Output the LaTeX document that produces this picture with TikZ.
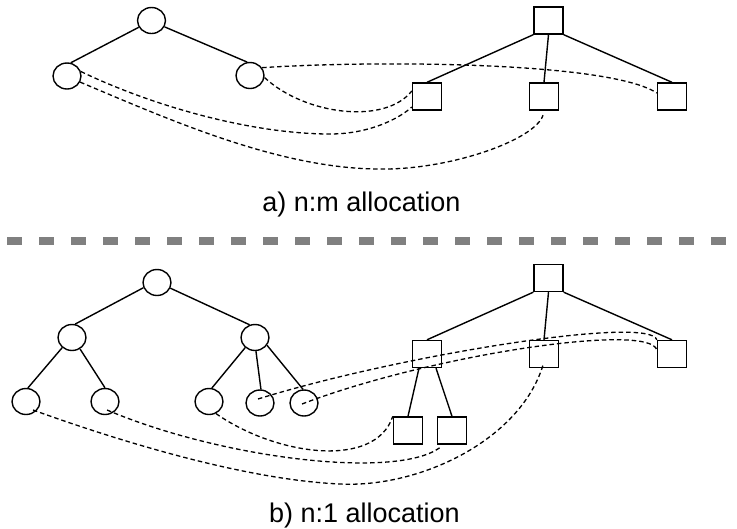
\documentclass[tikz,border=0pt]{standalone}
\usepackage{fontspec}
\setmainfont{Liberation Sans}
\usetikzlibrary{shapes.geometric,calc}
\definecolor{sepgray}{RGB}{128,128,128}
\begin{document}
\begin{tikzpicture}[x=1pt,y=-1pt,
  circ/.style={ellipse,draw,line width=1.4pt,minimum width=28pt,minimum height=26pt,inner sep=0pt},
  sq/.style={rectangle,draw,line width=1.4pt,minimum width=29pt,minimum height=27pt,inner sep=0pt},
  edge/.style={line width=1.4pt},
  alloc/.style={line width=1.3pt,dash pattern=on 4.5pt off 3pt},
  sepline/.style={line width=8pt,draw=sepgray,dash pattern=on 15pt off 17pt},
  lbl/.style={font=\fontsize{27}{30}\selectfont,anchor=base,inner sep=0pt}]
\useasboundingbox (0,0) rectangle (737,528);

% ---------- a) n:m allocation ----------
\node[circ] (rootA) at (151.5,20.5) {};
\node[circ] (lcA) at (67,76) {};
\node[circ] (rcA) at (250,75.5) {};
\draw[edge] (rootA.208) -- (lcA.74);
\draw[edge] (rootA.334) -- (rcA.102);

\node[sq] (sqrootA) at (548.5,20.5) {};
\node[sq] (sqlA) at (427,96.5) {};
\node[sq] (sqmA) at (544,96.5) {};
\node[sq] (sqrA) at (672,96.5) {};
\draw[edge] (sqrootA.south west) -- (sqlA.north);
\draw[edge] (sqrootA.south) -- (sqmA.north);
\draw[edge] (sqrootA.south east) -- (sqrA.north);

\draw[alloc] (rcA.33) .. controls (380,60) and (610,62) .. ($(sqrA.west)+(0,-3.5)$);
\draw[alloc] (rcA.-8) .. controls (305,115) and (385,125) .. ($(sqlA.west)+(0,-5.5)$);
\draw[alloc] (lcA.18) .. controls (150,105) and (250,134) .. (330,134)
   .. controls (370,134) and (400,118) .. ($(sqlA.west)+(0,10.5)$);
\draw[alloc] (lcA.-25) .. controls (170,120) and (280,169) .. (380,169)
   .. controls (450,170) and (535,140) .. ($(sqmA.south)+(-1,4.5)$);

\node[lbl] (labA) at (361.5,211) {a) n:m allocation};

% ---------- separator ----------
\coordinate (sepL) at (7,241);
\coordinate (sepR) at (737,241);
\draw[sepline] (sepL) -- (sepR);

% ---------- b) n:1 allocation ----------
\node[circ] (rootB) at (157,282.5) {};
\node[circ] (lB) at (72,337.5) {};
\node[circ] (rB) at (255,337.5) {};
\node[circ] (c1) at (26,401.5) {};
\node[circ] (c2) at (105,401.5) {};
\node[circ] (c3) at (209,401.5) {};
\node[circ] (c4) at (260,403) {};
\node[circ] (c5) at (304,403) {};
\draw[edge] (rootB.201) -- (lB.77);
\draw[edge] (rootB.337) -- (rB.113);
\draw[edge] (lB.226) -- (c1.82);
\draw[edge] (lB.305) -- (c2.90);
\draw[edge] (rB.226) -- (c3.78);
\draw[edge] (rB.274) -- (c4.86);
\draw[edge] (rB.327) -- (c5.94);

\node[sq] (sqrootB) at (548.5,278) {};
\node[sq] (sqlB) at (427,354) {};
\node[sq] (sqmB) at (544,354) {};
\node[sq] (sqrB) at (672,354) {};
\node[sq] (sq3a) at (408,430.5) {};
\node[sq] (sq3b) at (452,430.5) {};
\draw[edge] (sqrootB.south west) -- (sqlB.north);
\draw[edge] (sqrootB.south) -- (sqmB.north);
\draw[edge] (sqrootB.south east) -- (sqrB.north);
\draw[edge] ([xshift=-8pt]sqlB.south) -- (sq3a.north);
\draw[edge] ([xshift=9pt]sqlB.south) -- (sq3b.north);

\draw[alloc] ($(c4.center)+(-2,-4)$) .. controls (400,355) and (650,315) .. (sqrB.north west);
\draw[alloc] ($(c5.center)+(-2,1)$) .. controls (430,355) and (650,322) .. ($(sqrB.west)+(0,-4)$);
\draw[alloc] (c3.-60) .. controls (275,455) and (375,470) .. (sq3a.north west);
\draw[alloc] ($(c2.center)+(2,8.5)$) .. controls (220,458) and (395,480) .. ($(sq3b.south west)+(3,3)$);
\draw[alloc] ($(c1.center)+(7,8.5)$) .. controls (130,445) and (250,480) .. (340,484)
   .. controls (420,488) and (520,440) .. ($(sqmB.south)+(-1,-3)$);

\node[lbl] (labB) at (364.5,522) {b) n:1 allocation};
\end{tikzpicture}
\end{document}
